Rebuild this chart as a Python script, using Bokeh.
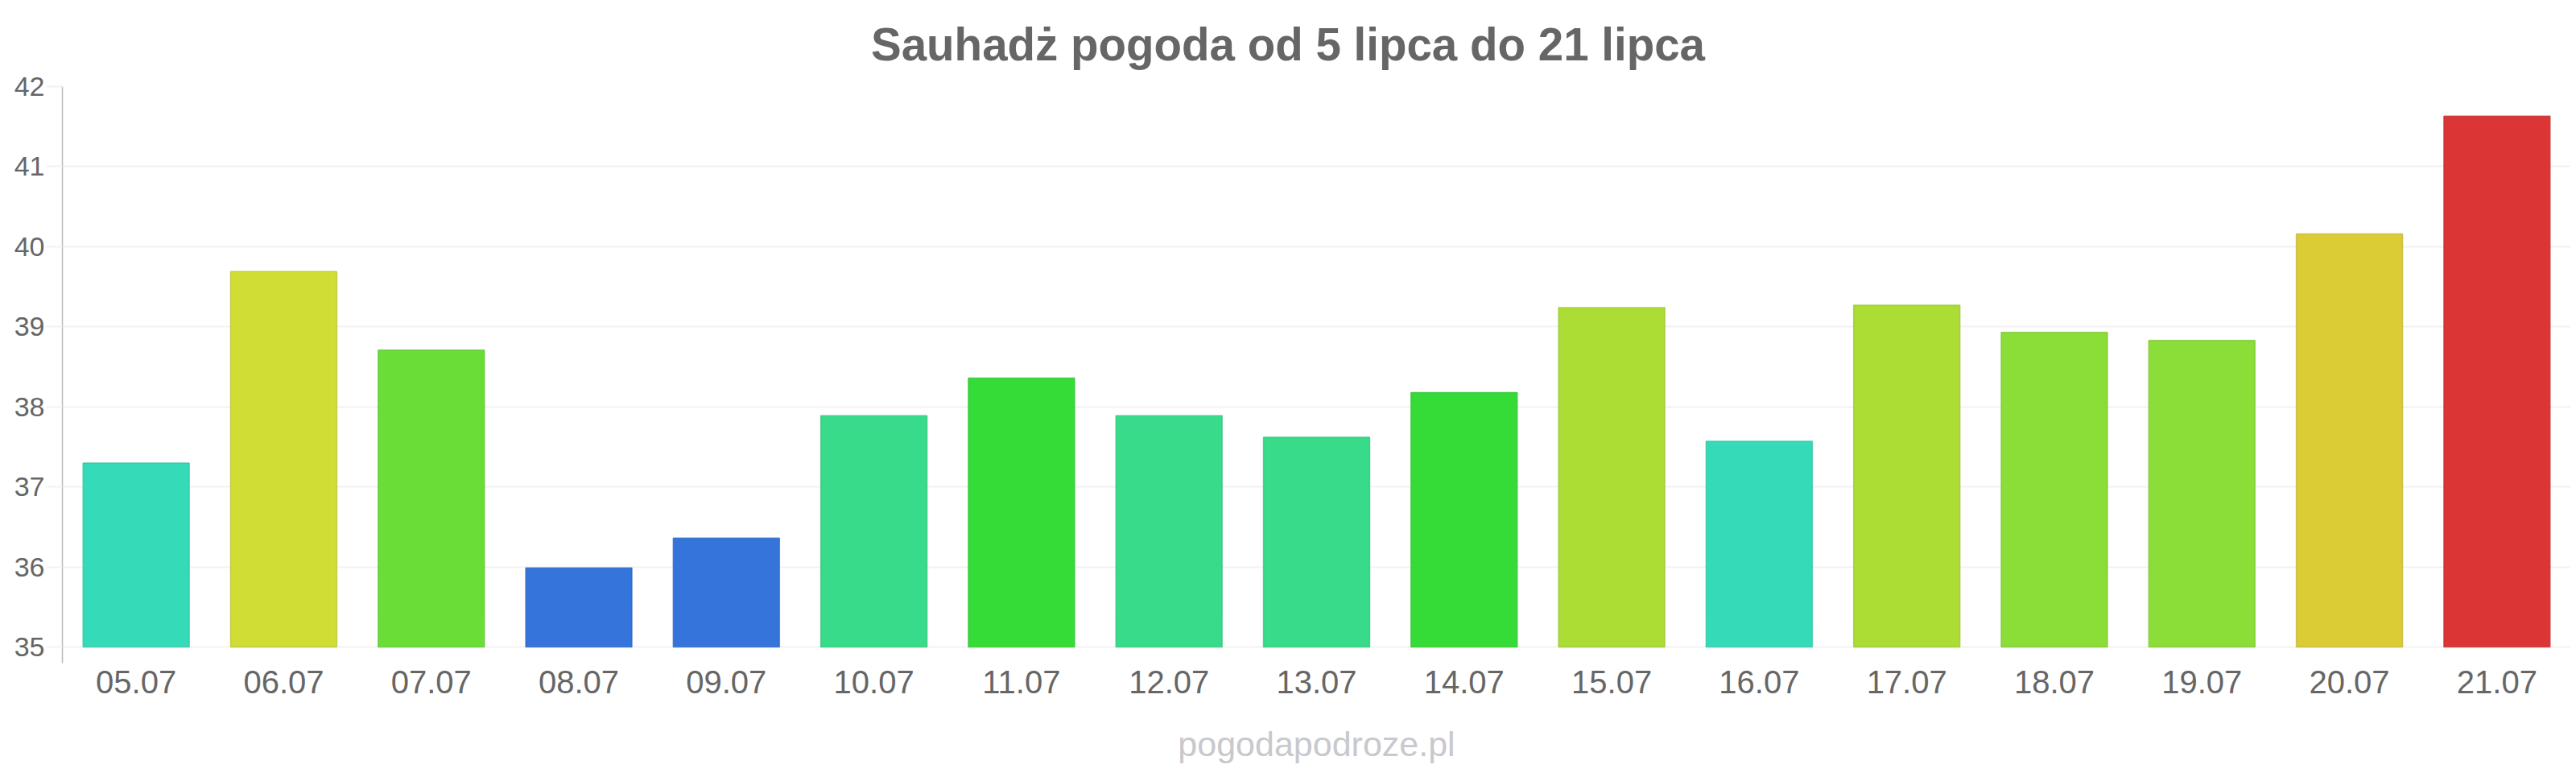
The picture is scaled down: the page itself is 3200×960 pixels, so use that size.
from bokeh.plotting import figure
from bokeh.models import FactorRange, Range1d, FixedTicker, Title, ColumnDataSource
from bokeh.embed import file_html
from bokeh.resources import INLINE

dates = ["05.07", "06.07", "07.07", "08.07", "09.07", "10.07", "11.07", "12.07", "13.07",
         "14.07", "15.07", "16.07", "17.07", "18.07", "19.07", "20.07", "21.07"]
temps = [37.30, 39.69, 38.71, 35.99, 36.36, 37.89, 38.36, 37.89, 37.62,
         38.18, 39.24, 37.57, 39.27, 38.93, 38.83, 40.16, 41.63]
colors = ["#35dbb8", "#cfdd35", "#6bdd37", "#3575db", "#3575db", "#37db8a", "#35dc37", "#37db8a", "#37db8a",
          "#35dc37", "#acdd35", "#35dbb8", "#acdd35", "#8bdd37", "#8bdd37", "#dbcb35", "#db3535"]
y_ticks = [35, 36, 37, 38, 39, 40, 41, 42]
title_text = "Sauhadż pogoda od 5 lipca do 21 lipca"
watermark_text = "pogodapodroze.pl"


def darker(c, f=0.88):
    r, g, b = int(c[1:3], 16), int(c[3:5], 16), int(c[5:7], 16)
    return "#%02x%02x%02x" % (int(r * f), int(g * f), int(b * f))


W, H = 3200, 960
LEFT, RIGHT, TOP, BOTTOM = 77, 7, 107, 137
y0, y1 = 34.8, 42.0
FONT = "Liberation Sans"

p = figure(width=W, height=H,
           x_range=FactorRange(*dates, range_padding=0),
           y_range=Range1d(y0, y1),
           output_backend="svg", toolbar_location=None,
           min_border_left=LEFT, min_border_right=RIGHT,
           min_border_top=TOP, min_border_bottom=BOTTOM)
p.outline_line_color = None
p.background_fill_color = "white"
p.border_fill_color = "white"

src = ColumnDataSource(dict(x=dates, top=temps, fill=colors,
                            line=[darker(c) for c in colors]))
p.vbar(x="x", top="top", bottom=35, width=0.72, source=src,
       fill_color="fill", line_color="line", line_width=1.5, line_alpha=0.7)

# grid
p.xgrid.grid_line_color = None
p.ygrid.grid_line_color = "#f2f2f2"
p.ygrid.grid_line_width = 2
p.yaxis.ticker = FixedTicker(ticks=y_ticks)

# y axis
ya = p.yaxis[0]
ya.axis_line_color = "#bbbbbb"
ya.axis_line_width = 1.5
ya.major_tick_line_color = "#f2f2f2"
ya.major_tick_line_width = 2
ya.major_tick_out = 20
ya.major_tick_in = 0
ya.minor_tick_line_color = None
ya.major_label_text_font = FONT
ya.major_label_text_font_size = "34px"
ya.major_label_text_color = "#666666"
ya.major_label_standoff = 2

# x axis (its axis label carries the site watermark)
xa = p.xaxis[0]
xa.axis_line_color = None
xa.major_tick_line_color = None
xa.major_tick_out = 0
xa.major_tick_in = 0
xa.minor_tick_line_color = None
xa.major_label_text_font = FONT
xa.major_label_text_font_size = "40px"
xa.major_label_text_color = "#666666"
xa.major_label_standoff = 9
xa.axis_label = watermark_text
xa.axis_label_text_font = FONT
xa.axis_label_text_font_size = "43px"
xa.axis_label_text_font_style = "normal"
xa.axis_label_text_color = "#c8c8cd"
xa.axis_label_standoff = 36

# title, centred on the page (frame starts at LEFT)
title_w = 1037
p.title = Title(text=title_text, align="left", vertical_align="middle",
                offset=W / 2 - LEFT - title_w / 2, standoff=39,
                text_font=FONT, text_font_size="56.5px", text_font_style="bold",
                text_color="#666666")

open("out.html", "w").write(file_html(p, INLINE))
